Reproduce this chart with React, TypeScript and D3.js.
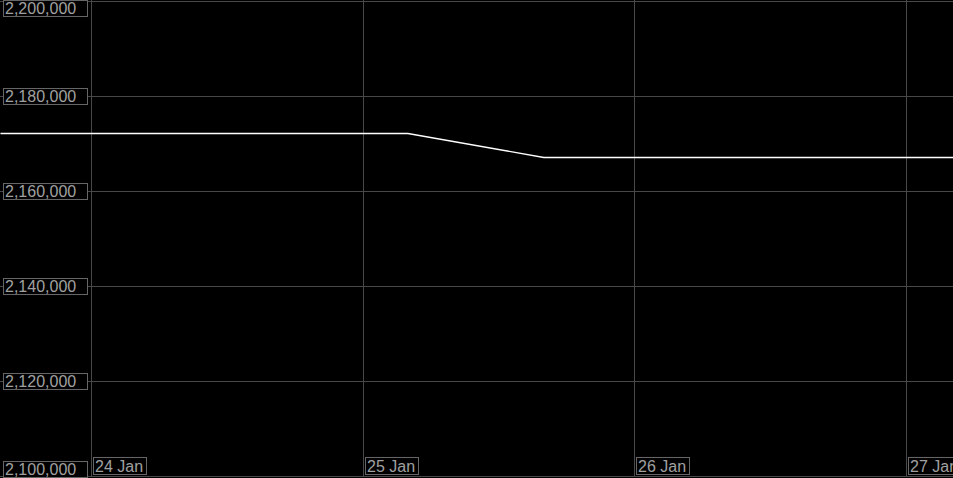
import React, { useRef, useEffect } from 'react';
import * as d3 from 'd3';

const times = [
  '2024-01-23T16:00', '2024-01-24T04:00', '2024-01-24T16:00', '2024-01-25T04:00',
  '2024-01-25T16:00', '2024-01-26T04:00', '2024-01-26T16:00', '2024-01-27T04:00',
  '2024-01-27T16:00',
];
const values = [2172200, 2172200, 2172200, 2172200, 2167100, 2167100, 2167100, 2167100, 2167100];
const yTicks = [2100000, 2120000, 2140000, 2160000, 2180000, 2200000];
const xTicks = ['2024-01-24T00:00', '2024-01-25T00:00', '2024-01-26T00:00', '2024-01-27T00:00'];

const W = 953;
const H = 478;

function App() {
  const svgRef = useRef<SVGSVGElement>(null);

  useEffect(() => {
    const svg = d3.select(svgRef.current);
    svg.selectAll('*').remove();

    const parse = (s: string) => new Date(s);
    const x = d3.scaleTime()
      .domain([parse(xTicks[0]), parse(xTicks[3])])
      .range([91, 906]);
    const y = d3.scaleLinear().domain([2100000, 2200000]).range([476, 1]);

    svg.append('rect').attr('width', W).attr('height', H).attr('fill', '#000');

    // grid
    svg.selectAll('.hgrid')
      .data(yTicks)
      .join('line')
      .attr('x1', 0).attr('x2', W)
      .attr('y1', d => Math.round(y(d)) + 0.5)
      .attr('y2', d => Math.round(y(d)) + 0.5)
      .attr('stroke', '#484848');

    svg.selectAll('.vgrid')
      .data(xTicks)
      .join('line')
      .attr('x1', d => Math.round(x(parse(d))) + 0.5)
      .attr('x2', d => Math.round(x(parse(d))) + 0.5)
      .attr('y1', 0).attr('y2', 477)
      .attr('stroke', '#484848');

    // line
    const line = d3.line<number>()
      .x((_, i) => x(parse(times[i])))
      .y(d => Math.round(y(d)) + 0.5);
    svg.append('path')
      .datum(values)
      .attr('d', line)
      .attr('fill', 'none')
      .attr('stroke', '#fff')
      .attr('stroke-width', 1.3);

    const fmt = d3.format(',');

    // y labels
    const yl = svg.selectAll('.ylab').data(yTicks).join('g');
    yl.each(function (d) {
      const g = d3.select(this);
      let top = Math.round(y(d)) - 8;
      top = Math.max(0, Math.min(top, H - 17));
      g.append('rect')
        .attr('x', 3.5).attr('y', top + 0.5)
        .attr('width', 84).attr('height', 16)
        .attr('fill', '#000').attr('stroke', '#666');
      g.append('text')
        .attr('x', 5).attr('y', top + 14)
        .attr('fill', '#a0a0a0')
        .attr('font-family', 'Liberation Sans, Arial, sans-serif')
        .attr('font-size', 16)
        .text(fmt(d));
    });

    // x labels
    const xl = svg.selectAll('.xlab').data(xTicks).join('g');
    xl.each(function (d) {
      const g = d3.select(this);
      const left = Math.round(x(parse(d))) + 2;
      g.append('rect')
        .attr('x', left + 0.5).attr('y', 457.5)
        .attr('width', 53).attr('height', 17)
        .attr('fill', '#000').attr('stroke', '#666');
      g.append('text')
        .attr('x', left + 2).attr('y', 472)
        .attr('fill', '#a0a0a0')
        .attr('font-family', 'Liberation Sans, Arial, sans-serif')
        .attr('font-size', 16)
        .text(d3.timeFormat('%-d %b')(parse(d)));
    });
  }, []);

  return (
    <div style={{ position: 'absolute', left: 0, top: 0 }}>
      <svg ref={svgRef} width={W} height={H} style={{ display: 'block' }}></svg>
    </div>
  );
}

export default App;
